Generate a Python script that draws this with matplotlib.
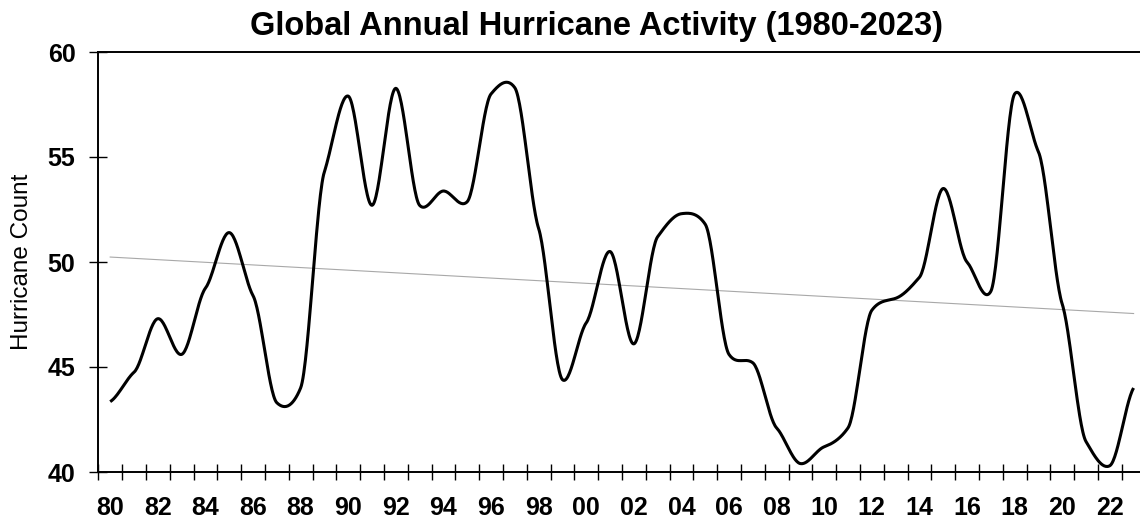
"""Global annual hurricane activity 1980-2023, smoothed line with linear trend."""
import numpy as np
import matplotlib
matplotlib.use("Agg")
import matplotlib.pyplot as plt

years = list(range(1980, 2024))
counts = [
    43.35, 44.75, 47.3, 45.6, 48.75, 51.4, 48.4, 43.3, 44.0, 54.3,
    57.9, 52.7, 58.27, 52.7, 53.38, 52.87, 58.0, 58.3, 51.6, 44.4,
    47.1, 50.5, 46.1, 51.2, 52.3, 51.8, 45.6, 45.2, 42.1, 40.4,
    41.2, 42.1, 47.7, 48.27, 49.27, 53.5, 50.0, 48.6, 58.0, 55.25,
    48.0, 41.45, 40.3, 44.0,
]
even_labels = [f"{y % 100:02d}" for y in years[::2]]

TITLE = "Global Annual Hurricane Activity (1980-2023)"
YLABEL = "Hurricane Count"


def smooth(x, y, tension=0.5, n=30):
    # cubic Hermite through every point, tangents scaled down so peaks stay close to the data
    x = np.asarray(x, float)
    y = np.asarray(y, float)
    m = np.empty_like(y)
    m[1:-1] = (y[2:] - y[:-2]) / (x[2:] - x[:-2])
    m[0] = (y[1] - y[0]) / (x[1] - x[0])
    m[-1] = (y[-1] - y[-2]) / (x[-1] - x[-2])
    m *= tension
    xs, ys = [], []
    for i in range(len(x) - 1):
        h = x[i + 1] - x[i]
        t = np.linspace(0, 1, n, endpoint=(i == len(x) - 2))
        h00 = 2 * t**3 - 3 * t**2 + 1
        h10 = t**3 - 2 * t**2 + t
        h01 = -2 * t**3 + 3 * t**2
        h11 = t**3 - t**2
        xs.append(x[i] + t * h)
        ys.append(h00 * y[i] + h10 * h * m[i] + h01 * y[i + 1] + h11 * h * m[i + 1])
    return np.concatenate(xs), np.concatenate(ys)


plt.rcParams["font.family"] = ["Liberation Sans", "DejaVu Sans"]

fig = plt.figure(figsize=(11.4, 5.21), dpi=100)
ax = fig.add_axes([98.3 / 1140, 1 - 472 / 521, (1145.5 - 98.3) / 1140, 420 / 521])

# linear trend of the yearly values
coef = np.polyfit(years, counts, 1)
trend = np.polyval(coef, years)
ax.plot(years, trend, color="#a8a8a8", lw=0.8, zorder=2)

sx, sy = smooth(years, counts)
ax.plot(sx, sy, color="black", lw=2.2, solid_capstyle="butt", zorder=3)

ax.set_xlim(years[0] - 0.5, years[-1] + 0.5)
ax.set_ylim(40, 60)
ax.set_yticks([40, 45, 50, 55, 60])

ax.set_xticks(years[::2])
ax.set_xticklabels(even_labels)
ax.set_xticks(np.arange(years[0] - 0.5, years[-1] + 1.0, 1.0), minor=True)
ax.tick_params(axis="x", which="major", length=0, pad=17.5, labelsize=18)
ax.tick_params(axis="x", which="minor", direction="inout", length=11.5, width=1.0)
ax.tick_params(axis="y", direction="inout", length=13, width=1.0, pad=10, labelsize=18)
for lab in ax.get_xticklabels() + ax.get_yticklabels():
    lab.set_fontweight("bold")

ax.spines["right"].set_visible(False)
for side in ("left", "bottom", "top"):
    ax.spines[side].set_linewidth(1.4)

fig.text(597 / 1140, 1 - 35 / 521, TITLE, ha="center", va="baseline",
         fontsize=23.5, fontweight="bold")
fig.text(22 / 1140, 1 - 262 / 521, YLABEL, rotation=90, ha="center", va="center",
         fontsize=17.5)

fig.savefig("out.png", dpi=100)
